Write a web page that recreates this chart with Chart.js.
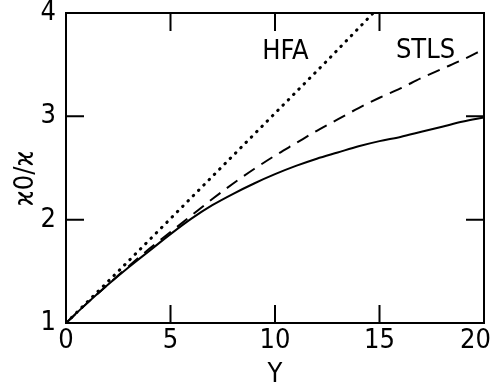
<!DOCTYPE html>
<html>
<head>
<meta charset="utf-8">
<script src="https://cdn.jsdelivr.net/npm/chart.js@4.4.0/dist/chart.umd.min.js"></script>
<style>
    html, body { margin: 0; padding: 0; background: #fff; }
    #wrap { width: 495px; height: 388px; }
</style>
</head>
<body>
<div id="wrap"><canvas id="kappaChart"></canvas></div>
<script>
// Values
const gammaFull = [0, 1, 2, 3, 4, 5, 6, 7, 8, 9, 10, 11, 12, 13, 14, 15, 16, 17, 18, 19, 20];
const exactCurve = [1.0, 1.19, 1.37, 1.54, 1.70, 1.86, 2.01, 2.14, 2.25, 2.35, 2.44, 2.52, 2.59, 2.65, 2.71, 2.76, 2.80, 2.85, 2.90, 2.95, 2.99];
const stlsCurve = [1.0, 1.19, 1.37, 1.55, 1.72, 1.88, 2.04, 2.20, 2.35, 2.49, 2.62, 2.74, 2.86, 2.97, 3.08, 3.18, 3.27, 3.37, 3.46, 3.55, 3.65];
const gammaHfa = [0, 2.5, 5, 7.5, 10, 12.5, 14.7];
const hfaCurve = [1.0, 1.5, 2.01, 2.52, 3.03, 3.54, 4.0];
const xTicks = [0, 5, 10, 15, 20];
const yTicks = [1, 2, 3, 4];

const FONT = "'Liberation Sans Narrow', 'DejaVu Sans Condensed', sans-serif";

const toPoints = (xs, ys) => xs.map((x, i) => ({ x: x, y: ys[i] }));

// frame + inward ticks on all four sides, x tick labels, axis titles, curve labels
const framePlugin = {
    id: 'frame',
    afterDraw(chart) {
        const ctx = chart.ctx;
        const a = chart.chartArea;
        const xs = chart.scales.x;
        const ys = chart.scales.y;
        const len = 18;
        ctx.save();
        ctx.strokeStyle = '#000';
        ctx.lineWidth = 2;
        ctx.strokeRect(a.left, a.top, a.right - a.left, a.bottom - a.top);
        ctx.beginPath();
        xTicks.slice(1, -1).forEach(v => {
            const px = xs.getPixelForValue(v);
            ctx.moveTo(px, a.bottom); ctx.lineTo(px, a.bottom - len);
            ctx.moveTo(px, a.top); ctx.lineTo(px, a.top + len);
        });
        yTicks.slice(1, -1).forEach(v => {
            const py = ys.getPixelForValue(v);
            ctx.moveTo(a.left, py); ctx.lineTo(a.left + len, py);
            ctx.moveTo(a.right, py); ctx.lineTo(a.right - len, py);
        });
        ctx.stroke();

        ctx.fillStyle = '#000';
        ctx.font = '27px ' + FONT;
        ctx.textBaseline = 'middle';

        // x tick labels, the last one kept inside the canvas
        ctx.textAlign = 'center';
        xTicks.forEach(v => {
            const txt = String(v);
            const w = ctx.measureText(txt).width;
            const px = Math.min(xs.getPixelForValue(v), chart.width - 4 - w / 2);
            ctx.fillText(txt, px, a.bottom + 18);
        });

        // curve labels
        ctx.fillText('HFA', xs.getPixelForValue(10.5), ys.getPixelForValue(3.62));
        ctx.fillText('STLS', xs.getPixelForValue(17.2), ys.getPixelForValue(3.63));

        // x title
        ctx.fillText('Y', (a.left + a.right) / 2, a.bottom + 52);

        // y title, rotated
        ctx.translate(26, ys.getPixelForValue(2.4));
        ctx.rotate(-Math.PI / 2);
        ctx.fillText('ϰ0/ϰ', 0, 0);
        ctx.restore();
    }
};

const ctx = document.getElementById('kappaChart').getContext('2d');

new Chart(ctx, {
    type: 'line',
    data: {
        datasets: [
            {
                label: 'exact',
                data: toPoints(gammaFull, exactCurve),
                borderColor: '#000',
                borderWidth: 2,
                pointRadius: 0,
                cubicInterpolationMode: 'monotone'
            },
            {
                label: 'STLS',
                data: toPoints(gammaFull, stlsCurve),
                borderColor: '#000',
                borderWidth: 2,
                borderDash: [13, 8],
                pointRadius: 0,
                cubicInterpolationMode: 'monotone'
            },
            {
                label: 'HFA',
                data: toPoints(gammaHfa, hfaCurve),
                borderColor: '#000',
                borderWidth: 3,
                borderDash: [0.5, 7],
                borderCapStyle: 'round',
                pointRadius: 0
            }
        ]
    },
    options: {
        responsive: true,
        maintainAspectRatio: false,
        animation: false,
        layout: {
            padding: { top: 13, right: 11, left: 0, bottom: 0 }
        },
        plugins: {
            legend: { display: false },
            tooltip: { enabled: false }
        },
        scales: {
            x: {
                type: 'linear',
                min: 0,
                max: 20,
                afterBuildTicks: s => { s.ticks = xTicks.map(v => ({ value: v })); },
                afterFit: s => {
                    s.height = 65;
                    s.paddingLeft = 0;
                    s.paddingRight = 0;
                },
                ticks: { display: false },
                grid: { display: false, drawTicks: false },
                border: { display: false }
            },
            y: {
                type: 'linear',
                min: 1,
                max: 4,
                afterBuildTicks: s => { s.ticks = yTicks.map(v => ({ value: v })); },
                afterFit: s => {
                    s.width = 66;
                    s.paddingTop = 0;
                    s.paddingBottom = 0;
                },
                ticks: {
                    color: '#000',
                    padding: 10,
                    font: { family: FONT, size: 27 }
                },
                grid: { display: false, drawTicks: false },
                border: { display: false }
            }
        }
    },
    plugins: [framePlugin]
});
</script>
</body>
</html>
